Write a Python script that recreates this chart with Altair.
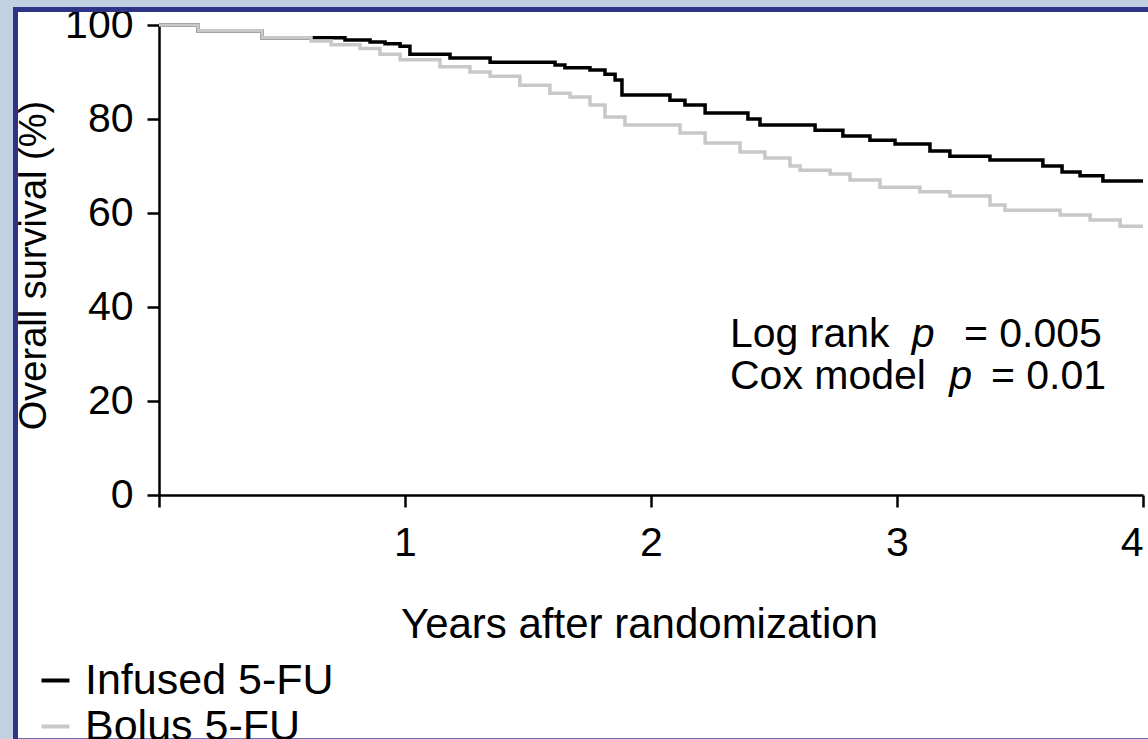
import altair as alt
import pandas as pd

# ---- data (years after randomization, overall survival %) ----
infused_years = [0.0, 0.159, 0.419, 0.756, 0.858, 0.919, 0.980, 1.020, 1.183, 1.346, 1.610,
                 1.650, 1.752, 1.813, 1.854, 1.882, 2.077, 2.138, 2.220, 2.394, 2.443, 2.667,
                 2.780, 2.890, 2.992, 3.134, 3.215, 3.378, 3.593, 3.671, 3.744, 3.837, 4.0]
infused_surv = [100.0, 98.8, 97.3, 96.8, 96.4, 96.0, 95.5, 93.8, 93.0, 92.1, 91.5,
                90.9, 90.4, 89.5, 88.3, 85.1, 84.0, 83.0, 81.3, 80.0, 78.7, 77.6,
                76.4, 75.5, 74.7, 73.2, 72.1, 71.3, 70.0, 68.7, 67.9, 66.8, 66.8]

bolus_years = [0.0, 0.159, 0.419, 0.618, 0.700, 0.817, 0.898, 0.980, 1.142, 1.264, 1.346,
               1.467, 1.589, 1.671, 1.752, 1.813, 1.894, 2.118, 2.220, 2.362, 2.463, 2.565,
               2.606, 2.728, 2.809, 2.931, 3.093, 3.215, 3.378, 3.439, 3.663, 3.785, 3.907, 4.0]
bolus_surv = [100.0, 98.8, 97.3, 96.6, 95.8, 95.0, 93.8, 92.6, 91.1, 90.0, 89.1,
              87.2, 85.5, 84.7, 83.0, 80.4, 78.7, 77.0, 74.9, 73.0, 71.7, 70.0,
              69.1, 68.3, 67.0, 65.5, 64.5, 63.6, 61.7, 60.6, 59.6, 58.5, 57.2, 57.2]

arms = ["Infused 5-FU", "Bolus 5-FU"]
arm_colors = ["#000000", "#c8c8c8"]

x_ticks = [0, 1, 2, 3, 4]
y_ticks = [0, 20, 40, 60, 80, 100]

ann_text = ["Log rank", "p", "= 0.005", "Cox model", "p", "= 0.01"]
ann_x = [2.321, 3.060, 3.272, 2.321, 3.212, 3.382]
ann_y = [31.5, 31.5, 31.5, 22.6, 22.6, 22.6]
ann_italic = [False, True, False, False, True, False]

FONT = "Liberation Sans"

df = pd.concat([
    pd.DataFrame({"year": infused_years, "surv": infused_surv, "arm": arms[0]}),
    pd.DataFrame({"year": bolus_years, "surv": bolus_surv, "arm": arms[1]}),
])
ann = pd.DataFrame({"x": ann_x, "y": ann_y, "text": ann_text, "italic": ann_italic})

x_enc = alt.X("year:Q", scale=alt.Scale(domain=[0, 4], nice=False, zero=False),
              axis=alt.Axis(values=x_ticks, format="d", title="Years after randomization",
                            labelExpr="datum.value == 0 ? '' : datum.label",
                            tickSize=12, labelPadding=16, labelFontSize=41,
                            titleFontSize=42, titleX=480, titleY=142,
                            titleBaseline="alphabetic", grid=False))
y_enc = alt.Y("surv:Q", scale=alt.Scale(domain=[0, 100], nice=False),
              axis=alt.Axis(values=y_ticks, format="d", title="Overall survival (%)",
                            tickSize=12, labelPadding=14, labelFontSize=41,
                            titleFontSize=38, titleX=-114, titleY=240,
                            titleBaseline="alphabetic", grid=False))

lines = alt.Chart(df).mark_line(interpolate="step-after", strokeWidth=3.5).encode(
    x=x_enc, y=y_enc,
    color=alt.Color("arm:N", sort=arms,
                    scale=alt.Scale(domain=arms, range=arm_colors),
                    legend=alt.Legend(orient="none", legendX=-125, legendY=634, title=None,
                                      symbolType="stroke", symbolSize=784,
                                      symbolStrokeWidth=4, labelFontSize=43,
                                      labelFont=FONT, labelOffset=8, rowPadding=2,
                                      labelLimit=0, padding=0, labelColor="black")),
)

text_plain = alt.Chart(ann).transform_filter("!datum.italic").mark_text(
    align="left", baseline="alphabetic", fontSize=41, font=FONT, color="black"
).encode(x="x:Q", y="y:Q", text="text:N")
text_italic = alt.Chart(ann).transform_filter("datum.italic").mark_text(
    align="left", baseline="alphabetic", fontSize=41, font=FONT, fontStyle="italic",
    color="black"
).encode(x="x:Q", y="y:Q", text="text:N")

one = pd.DataFrame({"k": [0]})
LIGHT = "#c1d1e1"
DARK = "#2f3586"


def frame_rect(x1, x2, y1, y2, color):
    return alt.Chart(one).mark_rect(color=color, clip=False).encode(
        x=alt.value(x1), x2=alt.value(x2), y=alt.value(y1), y2=alt.value(y2))


frame = [
    frame_rect(-159, -146, -25, 714, LIGHT),
    frame_rect(-159, 989, -25, -18, LIGHT),
    frame_rect(-146, -141, -18, 714, DARK),
    frame_rect(-146, 989, -18, -13, DARK),
    frame_rect(-141, 989, 713, 714, "#6a70b0"),
]

chart = alt.layer(lines, text_plain, text_italic, *frame).properties(
    width=984, height=470,
    padding={"left": 159, "top": 25, "right": 5, "bottom": 244},
    autosize="none",
    background="white",
).configure_view(stroke=None).configure_axis(
    domainColor="black", domainWidth=2.5, tickColor="black", tickWidth=2.5,
    labelColor="black", titleColor="black", labelFont=FONT, titleFont=FONT,
    titleFontWeight="normal",
)

chart.save("out.html", embed_options={"renderer": "svg", "actions": False})
